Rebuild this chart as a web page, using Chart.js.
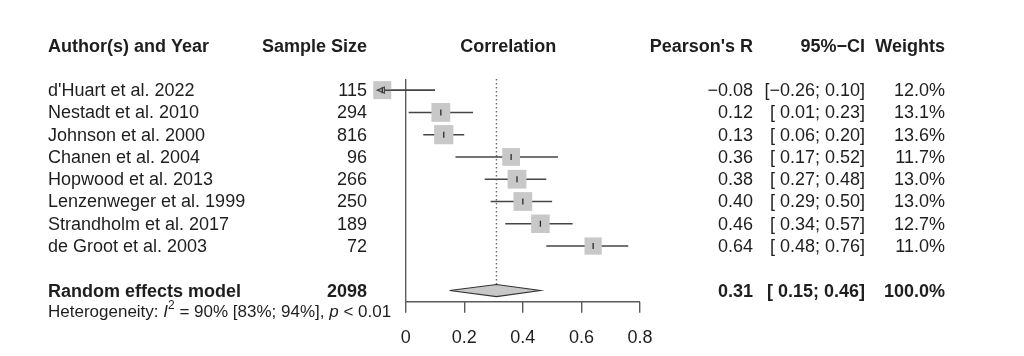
<!DOCTYPE html>
<html><head><meta charset="utf-8">
<script src="https://cdn.jsdelivr.net/npm/chart.js@4/dist/chart.umd.min.js"></script>
<style>html,body{margin:0;padding:0;background:#fff;}canvas{display:block}</style>
</head><body>
<canvas id="c" width="1024" height="356"></canvas>
<script>
// ---------- data ----------
const studies = ["d'Huart et al. 2022", "Nestadt et al. 2010", "Johnson et al. 2000", "Chanen et al. 2004",
  "Hopwood et al. 2013", "Lenzenweger et al. 1999", "Strandholm et al. 2017", "de Groot et al. 2003"];
const sampleSizes = [115, 294, 816, 96, 266, 250, 189, 72];
const pearsonR = [-0.08, 0.12, 0.13, 0.36, 0.38, 0.40, 0.46, 0.64];
const ciLower = [-0.26, 0.01, 0.06, 0.17, 0.27, 0.29, 0.34, 0.48];
const ciUpper = [0.10, 0.23, 0.20, 0.52, 0.48, 0.50, 0.57, 0.76];
const weights = [12.0, 13.1, 13.6, 11.7, 13.0, 13.0, 12.7, 11.0];
const pooledLabel = "Random effects model";
const pooledN = [2098];
const pooledR = [0.31];
const pooledCI = [0.15, 0.46];
const pooledWeight = [100.0];
const heterogeneity = [90, 83, 94];   // I^2, lower, upper (%)
const heterogeneityP = "0.01";
const headers = ["Author(s) and Year", "Sample Size", "Correlation", "Pearson's R", "95%\u2212CI", "Weights"];
const xTicks = [0, 0.2, 0.4, 0.6, 0.8];
const xTickLabels = ["0", "0.2", "0.4", "0.6", "0.8"];
const xLimits = [-0.1, 0.8];

// ---------- layout / style ----------
const FONT = "'Liberation Sans', Arial, Helvetica, sans-serif";
const TEXT = '#1e1e1e';
const LINE = '#454545';
const BOXC = '#c8c8c8';
const AXISC = '#5a5a5a';
const FS = 18;
const firstRow = 2;                     // row index of first study
const pooledRow = firstRow + studies.length + 1;
const hetRow = pooledRow + 1;
const col = {label: 48, n: 367, r: 753, ci: 865, w: 945};

const rows = studies.map((s, i) => firstRow + i);
const fmt = v => (v < 0 ? '\u2212' : '') + Math.abs(v).toFixed(2);
const fmtCI = (lo, hi) => '[' + (lo < 0 ? '' : ' ') + fmt(lo) + '; ' + fmt(hi) + ']';

// CI segments (NaN breaks between studies), clipped to the x limits
const ciData = [];
rows.forEach((r, i) => {
  ciData.push({x: Math.max(ciLower[i], xLimits[0]), y: r});
  ciData.push({x: Math.min(ciUpper[i], xLimits[1]), y: r});
  ciData.push({x: NaN, y: NaN});
});
const boxData = rows.map((r, i) => ({x: pearsonR[i], y: r}));
const boxRadius = weights.map(w => 5.2 * Math.sqrt(w) / Math.SQRT2);
const DH = 0.27; // diamond half height in rows
const diamond = [
  {x: pooledCI[0], y: pooledRow}, {x: pooledR[0], y: pooledRow - DH},
  {x: pooledCI[1], y: pooledRow}, {x: pooledR[0], y: pooledRow + DH},
  {x: pooledCI[0], y: pooledRow}
];
const yTop = firstRow - 0.5, yBottom = pooledRow + 0.5;

const textPlugin = {
  id: 'forestText',
  afterDraw(chart) {
    const ctx = chart.ctx, xs = chart.scales.x, ys = chart.scales.y;
    ctx.save();
    ctx.fillStyle = TEXT;
    ctx.textBaseline = 'middle';
    const put = (s, px, row, align, bold, size) => {
      ctx.font = (bold ? 'bold ' : '') + (size || FS) + 'px ' + FONT;
      ctx.textAlign = align;
      ctx.fillText(s, px, ys.getPixelForValue(row) + 1);
    };
    // headers
    put(headers[0], col.label, 0, 'left', true);
    put(headers[1], col.n, 0, 'right', true);
    put(headers[2], xs.getPixelForValue((xLimits[0] + xLimits[1]) / 2), 0, 'center', true);
    put(headers[3], col.r, 0, 'right', true);
    put(headers[4], col.ci, 0, 'right', true);
    put(headers[5], col.w, 0, 'right', true);
    // studies
    rows.forEach((r, i) => {
      put(studies[i], col.label, r, 'left', false);
      put(String(sampleSizes[i]), col.n, r, 'right', false);
      put(fmt(pearsonR[i]), col.r, r, 'right', false);
      put(fmtCI(ciLower[i], ciUpper[i]), col.ci, r, 'right', false);
      put(weights[i].toFixed(1) + '%', col.w, r, 'right', false);
    });
    // pooled
    put(pooledLabel, col.label, pooledRow, 'left', true);
    put(String(pooledN[0]), col.n, pooledRow, 'right', true);
    put(fmt(pooledR[0]), col.r, pooledRow, 'right', true);
    put(fmtCI(pooledCI[0], pooledCI[1]), col.ci, pooledRow, 'right', true);
    put(pooledWeight[0].toFixed(1) + '%', col.w, pooledRow, 'right', true);
    // heterogeneity
    const hs = 17;
    const hy = ys.getPixelForValue(hetRow) - 1;
    let hx = col.label;
    ctx.textAlign = 'left';
    const seg = (s, font, dy) => {
      ctx.font = font; ctx.fillText(s, hx, hy + (dy || 0)); hx += ctx.measureText(s).width;
    };
    seg('Heterogeneity: ', hs + 'px ' + FONT);
    seg('I', 'italic ' + hs + 'px ' + FONT);
    seg('2', Math.round(hs * 0.7) + 'px ' + FONT, -6);
    seg(' = ' + heterogeneity[0] + '% [' + heterogeneity[1] + '%; ' + heterogeneity[2] + '%], ', hs + 'px ' + FONT);
    seg('p', 'italic ' + hs + 'px ' + FONT);
    seg(' < ' + heterogeneityP, hs + 'px ' + FONT);
    // arrows for clipped CIs
    ctx.strokeStyle = LINE; ctx.lineWidth = 1.2;
    rows.forEach((r, i) => {
      if (ciLower[i] < xLimits[0]) {
        const px = xs.getPixelForValue(xLimits[0]) + 1, py = ys.getPixelForValue(r);
        ctx.beginPath();
        ctx.moveTo(px, py); ctx.lineTo(px + 7, py - 3); ctx.lineTo(px + 7, py + 3); ctx.closePath();
        ctx.stroke();
        ctx.beginPath(); ctx.moveTo(px + 7, py); ctx.lineTo(xs.getPixelForValue(Math.min(ciUpper[i], xLimits[1])), py);
        ctx.lineWidth = 1.5; ctx.stroke();
      }
    });
    ctx.restore();
  }
};

// Chart.js draws lower "order" on top
new Chart(document.getElementById('c'), {
  type: 'line',
  data: {
    datasets: [
      { // estimate marks
        order: 0,
        data: boxData, showLine: false, pointStyle: 'line', pointRotation: 90, pointRadius: 3,
        pointBorderColor: '#2a2a2a', pointBorderWidth: 1.3, clip: false
      },
      { // weight boxes
        order: 1,
        data: boxData, showLine: false, pointStyle: 'rect', pointRadius: boxRadius,
        pointBackgroundColor: BOXC, pointBorderWidth: 0, pointBorderColor: BOXC, clip: false
      },
      { // confidence intervals
        order: 2,
        data: ciData, borderColor: LINE, borderWidth: 1.5, pointRadius: 0, fill: false, spanGaps: false, clip: false
      },
      { // pooled diamond
        order: 3,
        data: diamond, borderColor: '#333', borderWidth: 1.1, backgroundColor: BOXC,
        fill: 'shape', pointRadius: 0, tension: 0, clip: false
      },
      { // pooled-estimate dotted line
        order: 4,
        data: [{x: pooledR[0], y: yTop}, {x: pooledR[0], y: pooledRow - DH}],
        borderColor: '#6a6a6a', borderWidth: 1.5, borderDash: [1.5, 2.5], pointRadius: 0, fill: false
      },
      { // x axis line
        order: 5,
        data: [{x: xTicks[0], y: yBottom}, {x: xTicks[xTicks.length - 1], y: yBottom}],
        borderColor: AXISC, borderWidth: 1.4, pointRadius: 0, fill: false, clip: false
      },
      { // null-effect line at 0
        order: 6,
        data: [{x: 0, y: yTop}, {x: 0, y: yBottom}],
        borderColor: AXISC, borderWidth: 1.4, pointRadius: 0, fill: false, clip: false
      }
    ]
  },
  options: {
    responsive: false, animation: false, devicePixelRatio: 1,
    layout: {padding: {left: 376.4, right: 384, top: 79, bottom: 9.2}},
    plugins: {legend: {display: false}, tooltip: {enabled: false}},
    scales: {
      x: {
        type: 'linear', min: xLimits[0], max: xLimits[1], position: 'bottom',
        afterBuildTicks: s => { s.ticks = xTicks.map(v => ({value: v})); },
        afterFit: s => { s.height = 45.1; },
        ticks: {
          autoSkip: false, maxRotation: 0, padding: 15, color: TEXT,
          font: {family: FONT, size: FS},
          callback: (v) => { const k = xTicks.indexOf(v); return k >= 0 ? xTickLabels[k] : ''; }
        },
        grid: {drawOnChartArea: false, drawTicks: true, tickLength: 11, color: AXISC, lineWidth: 1.4},
        border: {display: false}
      },
      y: {type: 'linear', reverse: true, min: yTop, max: yBottom, display: false}
    }
  },
  plugins: [textPlugin]
});
</script>
</body></html>
